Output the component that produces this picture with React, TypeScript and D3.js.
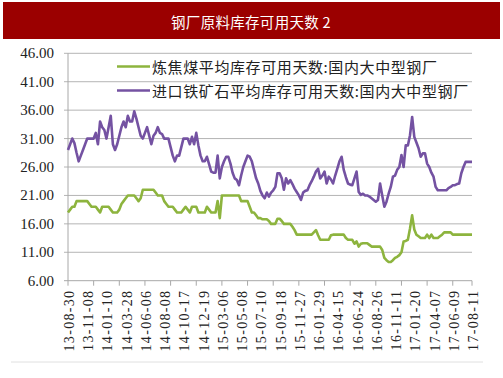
import React from "react";
import * as d3 from "d3";

const title = "钢厂原料库存可用天数 2";
const seriesNames = [
  "炼焦煤平均库存可用天数:国内大中型钢厂",
  "进口铁矿石平均库存可用天数:国内大中型钢厂",
];
const tickLabels = [
  "13-08-30", "13-11-08", "14-01-10", "14-03-28", "14-06-06", "14-08-08",
  "14-10-17", "14-12-19", "15-03-06", "15-05-08", "15-07-10", "15-09-18",
  "15-11-27", "16-01-29", "16-04-15", "16-06-24", "16-08-26", "16-11-11",
  "17-01-20", "17-04-07", "17-06-09", "17-08-11",
];
const yTicks = [6, 11, 16, 21, 26, 31, 36, 41, 46];

const coking = [
  18.0, 18.5, 19.0, 19.0, 20.0, 20.0, 20.0, 20.0, 20.0, 20.0,
  19.5, 19.0, 19.0, 19.0, 18.5, 18.0, 19.0, 19.0, 19.0, 19.0,
  18.5, 18.0, 18.0, 18.0, 18.5, 19.5, 20.0, 20.5, 21.0, 21.0,
  21.0, 21.0, 20.5, 20.0, 20.5, 22.0, 22.0, 22.0, 22.0, 22.0,
  22.0, 21.5, 21.0, 21.0, 21.0, 20.0, 19.5, 19.0, 19.0, 19.0,
  18.5, 18.0, 18.0, 18.0, 18.5, 19.0, 18.5, 18.0, 19.0, 19.0,
  19.0, 18.0, 18.0, 18.0, 18.0, 19.0, 18.5, 18.0, 18.0, 18.0,
  20.0, 17.0, 21.0, 21.0, 21.0, 21.0, 21.0, 21.0, 21.0, 21.0,
  21.0, 20.0, 20.0, 20.0, 20.0, 19.0, 18.0, 18.0, 17.5, 17.0,
  17.0, 16.8, 16.8, 16.8, 16.5, 16.0, 16.0, 16.0, 16.9, 16.9,
  16.5, 16.0, 16.0, 16.0, 16.0, 15.5, 14.9, 14.1, 14.1, 14.1,
  14.1, 14.1, 14.1, 14.1, 14.1, 14.5, 14.9, 14.0, 13.2, 13.2,
  13.2, 13.2, 13.2, 14.0, 14.1, 14.1, 14.1, 14.1, 14.1, 14.1,
  13.5, 13.2, 13.2, 13.2, 12.5, 12.9, 12.0, 12.5, 12.6, 12.6,
  12.6, 12.3, 12.0, 12.0, 12.0, 12.0, 12.0, 11.4, 10.0, 9.6,
  9.3, 9.3, 9.6, 10.0, 10.2, 10.5, 11.0, 12.9, 13.0, 13.2,
  15.2, 17.5, 15.0, 14.1, 13.8, 13.5, 13.5, 13.5, 14.1, 13.5,
  14.1, 13.5, 13.5, 13.5, 13.8, 14.1, 14.5, 14.5, 14.5, 14.5,
  14.1, 14.1, 14.1, 14.1, 14.1, 14.1, 14.1, 14.1, 14.1, 14.1,
];

const ironOre = [
  29.0, 30.0, 31.0, 30.2, 28.5, 27.0, 28.0, 29.0, 30.0, 31.0,
  31.0, 31.0, 31.0, 32.0, 30.0, 34.0, 33.0, 32.5, 31.0, 33.0,
  35.0, 30.0, 29.0, 30.0, 31.5, 33.0, 34.0, 33.0, 35.0, 34.0,
  34.0, 35.8, 34.5, 33.0, 31.5, 31.0, 32.0, 33.0, 31.5, 30.0,
  31.5, 32.0, 33.0, 32.0, 31.8, 31.0, 31.0, 31.0, 29.5, 28.0,
  27.0, 28.0, 28.0, 29.5, 31.0, 31.0, 31.0, 30.0, 31.3, 30.0,
  32.0, 29.8, 28.0, 27.0, 27.0, 27.8, 26.5, 25.2, 25.0, 25.0,
  28.0, 24.0, 26.0, 27.0, 27.8, 27.8, 26.6, 25.0, 24.0, 23.7,
  22.8, 24.5, 26.0, 27.0, 28.0, 27.8, 27.0, 25.5, 24.0, 23.1,
  21.8, 21.0, 20.5, 21.5, 20.8, 21.5, 21.9, 22.5, 24.9, 24.9,
  24.0, 22.0, 24.0, 23.1, 23.7, 23.0, 22.2, 21.6, 21.0, 20.2,
  21.5, 21.8, 21.9, 22.8, 23.5, 24.3, 25.2, 25.7, 24.0, 24.5,
  25.2, 23.1, 24.3, 23.8, 23.1, 24.5, 25.7, 27.0, 27.8, 25.5,
  24.2, 23.1, 22.9, 22.8, 24.0, 25.2, 21.6, 21.1, 21.3, 21.0,
  21.0, 20.8, 20.5, 20.2, 19.9, 20.2, 23.1, 21.0, 19.0, 19.9,
  21.3, 22.5, 24.3, 24.5, 25.5, 26.0, 28.1, 26.0, 29.8, 29.8,
  31.6, 34.8, 31.3, 30.3, 29.3, 27.8, 28.4, 28.4, 26.6, 26.0,
  25.0, 24.3, 22.5, 21.9, 21.9, 21.9, 21.9, 21.9, 22.3, 22.5,
  22.8, 22.8, 23.0, 23.1, 24.9, 26.0, 26.9, 26.9, 26.9, 26.9,
];

const W = 503;
const H = 378;
const M = { left: 68, right: 472, top: 53.3, bottom: 280.7 };
const GREEN = "#8db43e";
const PURPLE = "#7452a2";
const LABEL_EVERY = 9;
const TICK_EVERY = 12;

export default function App() {
  const n = ironOre.length;
  const x = d3.scaleLinear().domain([0, n - 1]).range([M.left, M.right]);
  const y = d3.scaleLinear().domain([6, 46]).range([M.bottom, M.top]);
  const line = d3
    .line<number>()
    .x((_, i) => x(i))
    .y((d) => y(d));

  const tickIdx = d3.range(0, n, TICK_EVERY);
  const serif = "'Liberation Serif', 'Times New Roman', serif";
  const cjk = "'Noto Sans CJK SC', sans-serif";

  return (
    <svg
      width={W}
      height={H}
      style={{ position: "absolute", left: 0, top: 0, background: "#fff" }}
    >
      <rect x={3} y={2} width={497} height={37} fill="#9b0000" />
      <text
        x={251}
        y={21}
        fill="#fff"
        fontSize={14.5}
        fontFamily={cjk}
        textAnchor="middle"
        dominantBaseline="central"
        letterSpacing={0.3}
      >
        {title}
      </text>

      {yTicks.map((t) => (
        <g key={t}>
          <line
            x1={M.left - 4}
            x2={M.right}
            y1={y(t)}
            y2={y(t)}
            stroke={t === 6 ? "#a8a8a8" : "#b4b4b4"}
            strokeWidth={1}
          />
          <text
            x={54}
            y={y(t)}
            fontSize={15}
            fontFamily={serif}
            fill="#222"
            textAnchor="end"
            dominantBaseline="central"
          >
            {t.toFixed(2)}
          </text>
        </g>
      ))}
      <line x1={M.left} x2={M.left} y1={M.top} y2={M.bottom} stroke="#a8a8a8" />

      {tickIdx.map((i) => (
        <line key={i} x1={x(i)} x2={x(i)} y1={M.bottom} y2={M.bottom + 5} stroke="#a8a8a8" />
      ))}
      <line x1={M.right} x2={M.right} y1={M.bottom} y2={M.bottom + 5} stroke="#a8a8a8" />

      {tickLabels.map((lab, k) => {
        const cx = x(k * LABEL_EVERY) + 1.5;
        return (
          <text
            key={lab}
            transform={`translate(${cx},${M.bottom + 9}) rotate(-90)`}
            fontSize={14}
            fontFamily={serif}
            fill="#222"
            textAnchor="end"
            dominantBaseline="central"
            letterSpacing={1.3}
          >
            {lab}
          </text>
        );
      })}

      <path d={line(coking) || ""} fill="none" stroke={GREEN} strokeWidth={2.6} strokeLinejoin="round" />
      <path d={line(ironOre) || ""} fill="none" stroke={PURPLE} strokeWidth={2.6} strokeLinejoin="round" />

      {seriesNames.map((name, k) => {
        const ly = 66.5 + k * 24;
        return (
          <g key={name}>
            <line x1={117} x2={150} y1={ly} y2={ly} stroke={k === 0 ? GREEN : PURPLE} strokeWidth={2.6} />
            <text
              x={152}
              y={ly}
              fontSize={15}
              fontFamily={cjk}
              fill="#222"
              dominantBaseline="central"
              letterSpacing={0.6}
            >
              {name}
            </text>
          </g>
        );
      })}

      <line x1={11} x2={483} y1={362} y2={362} stroke="#e0e0e0" />
    </svg>
  );
}
